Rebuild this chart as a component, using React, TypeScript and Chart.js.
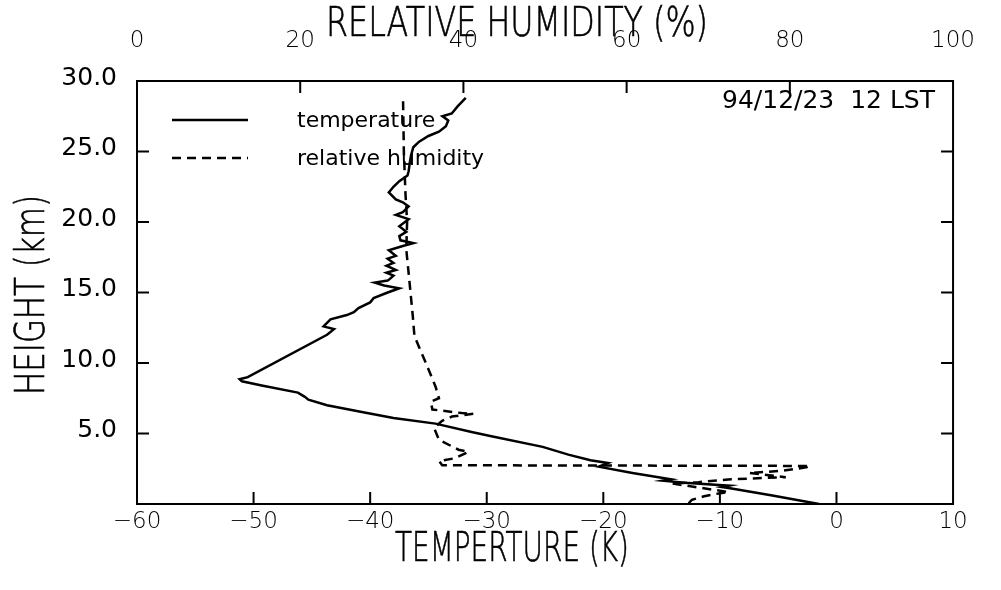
import React, { useEffect, useRef } from "react";
import { Chart, registerables } from "chart.js";

Chart.register(...registerables);

// Temperature profile: temperature (K scale as labelled) vs height (km)
const tempValues: number[] = [
  -1.5, -5.5, -9.0, -9.8, -9.2, -13.0, -14.9, -14.2, -17.5, -20.4, -19.6, -21.1, -23.0, -25.2,
  -29.6, -31.3, -34.4, -38.0, -40.6, -43.7, -45.3, -45.6, -46.2, -49.3, -51.0, -51.2, -50.5,
  -43.7, -43.1, -44.0, -43.4, -42.0, -41.4, -41.0, -40.0, -39.7, -38.5, -37.5, -38.8, -39.6,
  -38.5, -38.4, -38.0, -38.6, -37.8, -38.6, -38.0, -38.5, -37.8, -38.4, -37.2, -36.3, -37.4,
  -37.5, -36.9, -37.5, -36.7, -37.8, -37.2, -36.7, -37.2, -37.8, -38.4, -38.0, -37.5, -36.8,
  -36.7, -36.6, -36.5, -36.3, -35.8, -35.0, -34.1, -33.5, -33.3, -33.8, -33.0, -32.5, -31.8,
];
const tempHeights: number[] = [
  0.0, 0.6, 1.1, 1.2, 1.3, 1.5, 1.65, 1.75, 2.2, 2.65, 2.9, 3.1, 3.5, 4.05,
  4.8, 5.1, 5.7, 6.1, 6.5, 7.0, 7.4, 7.6, 7.9, 8.4, 8.7, 8.85, 9.0,
  12.0, 12.4, 12.6, 13.1, 13.4, 13.6, 13.9, 14.3, 14.6, 15.0, 15.3, 15.5, 15.7,
  15.85, 15.9, 16.2, 16.4, 16.6, 16.9, 17.1, 17.4, 17.6, 18.0, 18.3, 18.5, 18.7,
  19.0, 19.3, 19.7, 20.2, 20.5, 20.7, 21.1, 21.4, 21.6, 22.1, 22.5, 22.9, 23.3,
  23.6, 24.2, 24.7, 25.3, 25.7, 26.1, 26.4, 26.8, 27.2, 27.5, 27.7, 28.2, 28.8,
];

// Relative humidity profile (%) vs height (km)
const rhValues: number[] = [
  67.6, 68.0, 69.5, 71.3, 72.5, 65.6, 68.8, 72.8, 77.0, 79.5, 75.0, 79.0, 82.0, 82.5,
  37.4, 37.0, 39.0, 40.6, 39.4, 37.0, 36.4, 37.4, 38.6, 41.2, 39.8, 36.2, 36.0, 37.0,
  36.6, 35.4, 34.0, 33.8, 33.4, 33.0, 33.1, 32.9, 32.7, 32.6,
];
const rhHeights: number[] = [
  0.05, 0.3, 0.55, 0.75, 0.85, 1.45, 1.55, 1.75, 1.85, 1.9, 2.2, 2.35, 2.6, 2.7,
  2.75, 3.05, 3.25, 3.7, 3.85, 4.55, 5.4, 5.9, 6.2, 6.4, 6.45, 6.7, 7.25, 7.5,
  8.3, 10.0, 11.9, 13.3, 15.7, 18.05, 20.0, 22.0, 25.0, 28.8,
];

const seriesNames: string[] = ["temperature", "relative humidity"];
const axisTitles = {
  top: "RELATIVE HUMIDITY (%)",
  bottom: "TEMPERTURE (K)",
  left: "HEIGHT (km)",
};
const annotationText = "94/12/23  12 LST";

const tempTicks: number[] = [-60, -50, -40, -30, -20, -10, 0, 10];
const rhTicks: number[] = [0, 20, 40, 60, 80, 100];
const heightTicks: number[] = [0, 5, 10, 15, 20, 25, 30];

const minusFmt = (v: number) => (v < 0 ? "\u2212" + Math.abs(v) : String(v));

const decorPlugin = {
  id: "decor",
  afterDraw(chart: any) {
    const { ctx, chartArea: a, scales } = chart;
    ctx.save();
    ctx.strokeStyle = "#000";
    ctx.fillStyle = "#000";
    ctx.lineWidth = 2;
    ctx.setLineDash([]);
    ctx.strokeRect(a.left, a.top, a.right - a.left, a.bottom - a.top);
    const L = 12;
    const line = (x1: number, y1: number, x2: number, y2: number) => {
      ctx.beginPath();
      ctx.moveTo(x1, y1);
      ctx.lineTo(x2, y2);
      ctx.stroke();
    };
    tempTicks.slice(1, -1).forEach((v) => {
      const px = scales.x.getPixelForValue(v);
      line(px, a.bottom, px, a.bottom - L);
    });
    rhTicks.slice(1, -1).forEach((v) => {
      const px = scales.x2.getPixelForValue(v);
      line(px, a.top, px, a.top + L);
    });
    heightTicks.slice(1, -1).forEach((v) => {
      const py = scales.y.getPixelForValue(v);
      line(a.left, py, a.left + L, py);
      line(a.right, py, a.right - L, py);
    });

    // axis titles
    ctx.textAlign = "center";
    ctx.textBaseline = "middle";
    ctx.font = '200 40px "DejaVu Sans"';
    ctx.lineWidth = 0.6;
    const title = (t: string, x: number, y: number, w: number) => {
      ctx.fillText(t, x, y, w);
      ctx.strokeText(t, x, y, w);
    };
    title(axisTitles.top, 517, 26, 382);
    title(axisTitles.bottom, 512, 551, 234);
    ctx.save();
    ctx.translate(34, 295);
    ctx.rotate(-Math.PI / 2);
    title(axisTitles.left, 0, 0, 200);
    ctx.restore();

    // legend
    ctx.lineWidth = 2.5;
    line(172, 120, 248, 120);
    ctx.setLineDash([9, 6]);
    line(172, 158, 248, 158);
    ctx.setLineDash([]);
    ctx.textAlign = "left";
    ctx.font = '22px "DejaVu Sans"';
    ctx.fillText(seriesNames[0], 297, 121);
    ctx.fillText(seriesNames[1], 297, 159);

    // annotation
    ctx.textAlign = "right";
    ctx.font = '25px "DejaVu Sans"';
    ctx.fillText(annotationText, 935, 101);
    ctx.restore();
  },
};

export default function App() {
  const ref = useRef<HTMLCanvasElement | null>(null);
  useEffect(() => {
    if (!ref.current) return;
    const tickFont = { family: "DejaVu Sans", size: 23, weight: "200" as any };
    const chart = new Chart(ref.current, {
      type: "scatter",
      data: {
        datasets: [
          {
            label: seriesNames[0],
            data: tempValues.map((t, i) => ({ x: t, y: tempHeights[i] })),
            xAxisID: "x",
            yAxisID: "y",
            showLine: true,
            borderColor: "#000",
            backgroundColor: "#000",
            borderWidth: 2.5,
            pointRadius: 0,
            tension: 0,
          },
          {
            label: seriesNames[1],
            data: rhValues.map((r, i) => ({ x: r, y: rhHeights[i] })),
            xAxisID: "x2",
            yAxisID: "y",
            showLine: true,
            borderColor: "#000",
            backgroundColor: "#000",
            borderWidth: 2.5,
            borderDash: [9, 6],
            pointRadius: 0,
            tension: 0,
          },
        ],
      },
      options: {
        animation: false,
        responsive: false,
        devicePixelRatio: 1,
        layout: { padding: { left: 0, right: 36, top: 0, bottom: 0 } },
        plugins: { legend: { display: false }, tooltip: { enabled: false } },
        scales: {
          x: {
            type: "linear",
            position: "bottom",
            min: tempTicks[0],
            max: tempTicks[tempTicks.length - 1],
            afterBuildTicks: (s: any) => {
              s.ticks = tempTicks.map((v) => ({ value: v }));
            },
            ticks: { color: "#000", font: tickFont, padding: 4, maxRotation: 0, autoSkip: false, callback: (v: any) => minusFmt(Number(v)) },
            grid: { display: false, drawTicks: false },
            border: { display: false },
            afterFit: (s: any) => {
              s.height = 86;
            },
          },
          x2: {
            type: "linear",
            position: "top",
            min: rhTicks[0],
            max: rhTicks[rhTicks.length - 1],
            afterBuildTicks: (s: any) => {
              s.ticks = rhTicks.map((v) => ({ value: v }));
            },
            ticks: { color: "#000", font: tickFont, padding: 26, maxRotation: 0, autoSkip: false },
            grid: { display: false, drawTicks: false },
            border: { display: false },
            afterFit: (s: any) => {
              s.height = 81;
            },
          },
          y: {
            type: "linear",
            position: "left",
            min: heightTicks[0],
            max: heightTicks[heightTicks.length - 1],
            afterBuildTicks: (s: any) => {
              s.ticks = heightTicks.map((v) => ({ value: v }));
            },
            ticks: {
              color: "#000",
              font: { family: "DejaVu Sans", size: 25 },
              padding: 20,
              labelOffset: -3,
              autoSkip: false,
              callback: (v: any) => (Number(v) === 0 ? "" : Number(v).toFixed(1)),
            },
            grid: { display: false, drawTicks: false },
            border: { display: false },
            afterFit: (s: any) => {
              s.width = 137;
            },
          },
        },
      },
      plugins: [decorPlugin],
    });
    return () => chart.destroy();
  }, []);
  return (
    <div style={{ position: "absolute", left: 0, top: 0, width: 1001, height: 590, background: "#fff" }}>
      <canvas ref={ref} width={1001} height={590} style={{ display: "block", width: 1001, height: 590 }} />
    </div>
  );
}
